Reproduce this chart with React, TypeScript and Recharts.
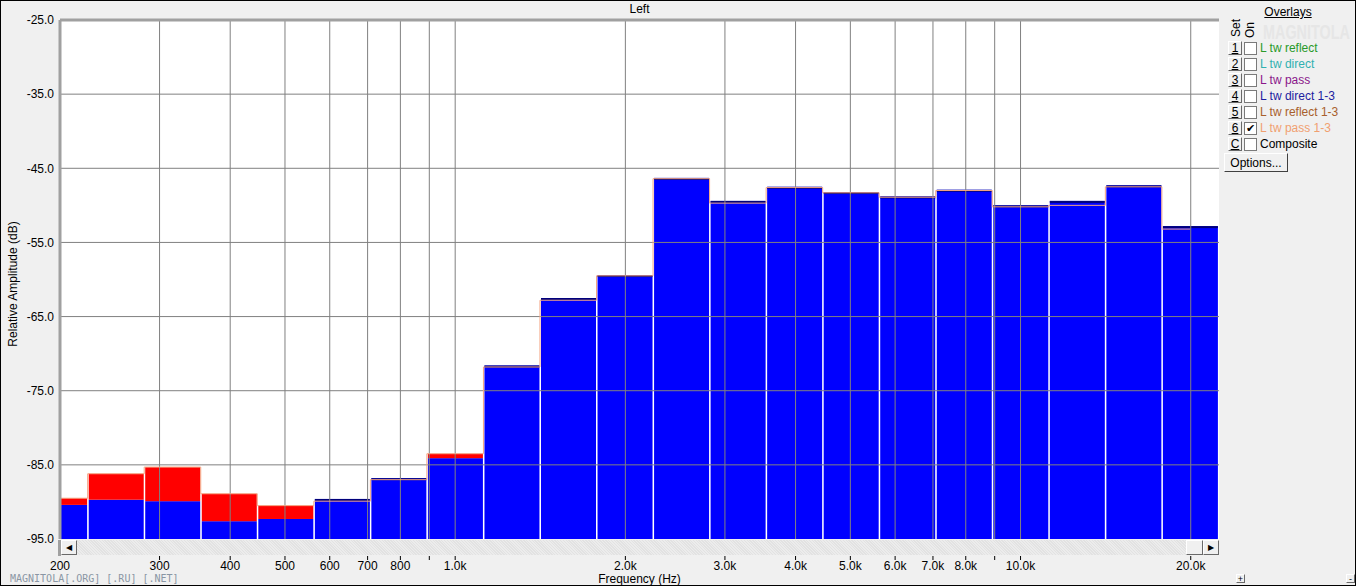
import { ComposedChart, Bar, Line, XAxis, YAxis, CartesianGrid, ReferenceLine } from 'recharts'

// third-octave band centres (Hz), base-10 series
const freqs = [199.5, 251.2, 316.2, 398.1, 501.2, 631.0, 794.3, 1000, 1258.9, 1584.9, 1995.3, 2511.9, 3162.3, 3981.1, 5011.9, 6309.6, 7943.3, 10000, 12589, 15849, 19953]
// blue (front) levels, dB
const blueLevels = [-90.4, -89.7, -89.9, -92.6, -92.3, -89.6, -86.8, -84.1, -71.6, -62.5, -59.4, -46.3, -49.4, -47.5, -48.2, -48.8, -47.9, -50.0, -49.4, -47.3, -52.8]
// red overlay "L tw pass 1-3" levels, dB
const redLevels = [-89.5, -86.2, -85.3, -88.9, -90.5, -89.9, -87.0, -83.5, -71.8, -62.8, -59.5, -46.4, -49.7, -47.6, -48.3, -48.9, -48.0, -50.2, -50.0, -47.5, -53.2]

const xTicks = [200, 300, 400, 500, 600, 700, 800, 900, 1000, 2000, 3000, 4000, 5000, 6000, 7000, 8000, 9000, 10000, 20000]
const unlabelled = [900, 9000]
const yTicks = [-95, -85, -75, -65, -55, -45, -35, -25]

const overlays = [
  { set: '1', name: 'L tw reflect', color: '#2a9a2a', on: false },
  { set: '2', name: 'L tw direct', color: '#30b0b0', on: false },
  { set: '3', name: 'L tw pass', color: '#8a168a', on: false },
  { set: '4', name: 'L tw direct 1-3', color: '#1c1ca0', on: false },
  { set: '5', name: 'L tw reflect 1-3', color: '#a8602c', on: false },
  { set: '6', name: 'L tw pass 1-3', color: '#f0a070', on: true },
  { set: 'C', name: 'Composite', color: '#000000', on: false },
]

const FONT = '"Liberation Sans", Arial, sans-serif'
const BAR_W = 55

const data = freqs.map((f, i) => ({
  freq: f,
  blue: blueLevels[i],
  red: redLevels[i],
  blueRange: [-95, blueLevels[i]],
  redRange: [blueLevels[i], Math.max(blueLevels[i], redLevels[i])],
}))

const fmtFreq = (v: number) => {
  if (unlabelled.includes(v)) return ''
  return v >= 1000 ? (v / 1000).toFixed(1) + 'k' : String(v)
}

const FreqTick = (props: any) => {
  const { x, payload } = props
  const label = fmtFreq(payload.value)
  return (
    <g>
      {payload.value > 200 && <line x1={x} x2={x} y1={556} y2={560} stroke="#000" />}
      <text x={x} y={570} textAnchor="middle" fontSize={12} fontFamily={FONT} fill="#000">{label}</text>
    </g>
  )
}

// bars are centred on the band centre with a fixed width
const BlueBar = (props: any) => {
  const { x, y, width, height, payload } = props
  const cx = x + width / 2
  return (
    <g>
      <rect x={cx - BAR_W / 2} y={y} width={BAR_W} height={height} fill="#0000ff" />
      {payload.blue >= payload.red && <rect x={cx - BAR_W / 2} y={y} width={BAR_W} height={2} fill="#00007a" />}
    </g>
  )
}

const RedBar = (props: any) => {
  const { x, y, width, height } = props
  if (!height) return <g />
  const cx = x + width / 2
  return <rect x={cx - BAR_W / 2} y={y} width={BAR_W} height={height} fill="#ff0000" />
}

const raised: React.CSSProperties = {
  position: 'absolute',
  background: '#f0f0f0',
  borderTop: '1px solid #fff',
  borderLeft: '1px solid #fff',
  borderRight: '1px solid #696969',
  borderBottom: '1px solid #696969',
  boxSizing: 'border-box',
  display: 'flex',
  alignItems: 'center',
  justifyContent: 'center',
  fontSize: 12,
  lineHeight: '12px',
}

export default function App() {
  return (
    <div style={{ position: 'absolute', left: 0, top: 0, width: 1356, height: 586, background: '#f0f0f0', fontFamily: FONT, overflow: 'hidden' }}>
      <ComposedChart width={1356} height={586} data={data} barCategoryGap={0} margin={{ top: 20, right: 137, bottom: 0, left: 0 }}>
        <CartesianGrid fill="#fff" horizontal={false} vertical={false} />
        <XAxis
          dataKey="freq"
          type="number"
          scale="log"
          domain={[200, 22440]}
          allowDataOverflow
          ticks={xTicks}
          interval={0}
          height={47}
          axisLine={false}
          tickLine={false}
          tick={<FreqTick />}
          label={{ value: 'Frequency (Hz)', position: 'insideBottom', offset: 3, fontSize: 12, fontFamily: FONT, fill: '#000' }}
        />
        <XAxis xAxisId="r" dataKey="freq" type="number" scale="log" domain={[200, 22440]} allowDataOverflow hide />
        <YAxis
          type="number"
          domain={[-95, -25]}
          ticks={yTicks}
          interval={0}
          width={60}
          tickSize={4}
          tickMargin={2}
          tickLine={false}
          axisLine={{ stroke: '#a0a0a0', strokeWidth: 3 }}
          tickFormatter={(v: number) => v.toFixed(1)}
          tick={{ fontSize: 12, fontFamily: FONT, fill: '#000' }}
        />
        <Bar dataKey="blueRange" shape={<BlueBar />} isAnimationActive={false} />
        <Bar dataKey="redRange" xAxisId="r" shape={<RedBar />} isAnimationActive={false} />
        {yTicks.filter(v => v > -95 && v < -25).map(v => (
          <ReferenceLine key={'h' + v} y={v} stroke="#808080" />
        ))}
        {xTicks.filter(v => v > 200).map(v => (
          <ReferenceLine key={'v' + v} x={v} stroke="#808080" />
        ))}
        <Line dataKey="red" type="step" stroke="#f4a482" strokeWidth={1} dot={false} activeDot={false} isAnimationActive={false} />
        <ReferenceLine y={-25} stroke="#a0a0a0" strokeWidth={3} />
      </ComposedChart>

      {/* title */}
      <div style={{ position: 'absolute', left: 60, width: 1159, top: 2, textAlign: 'center', fontSize: 12 }}>Left</div>

      {/* y axis label */}
      <div style={{ position: 'absolute', left: 13, top: 284, transform: 'translate(-50%, -50%) rotate(-90deg)', whiteSpace: 'nowrap', fontSize: 12 }}>
        Relative Amplitude (dB)
      </div>

      {/* scrollbar strip */}
      <div style={{ position: 'absolute', left: 58, top: 540, width: 3, height: 16, background: '#a0a0a0' }} />
      <div style={{ position: 'absolute', left: 61, top: 540, width: 1158, height: 15, background: 'repeating-linear-gradient(45deg, #ececec 0 1px, #e2e2e2 1px 2px)' }} />
      <div style={{ ...raised, left: 61, top: 540, width: 16, height: 15, fontSize: 8 }}>◀</div>
      <div style={{ ...raised, left: 1186, top: 540, width: 17, height: 15 }} />
      <div style={{ ...raised, left: 1203, top: 540, width: 16, height: 15, fontSize: 8 }}>▶</div>

      {/* watermark */}
      <div style={{ position: 'absolute', left: 10, top: 574, fontSize: 10, lineHeight: '9px', fontFamily: '"DejaVu Sans Mono", monospace', color: '#8a96a4' }}>
        MAGNITOLA[.ORG] [.RU] [.NET]
      </div>
      <div style={{ ...raised, left: 1236, top: 574, width: 9, height: 9, fontSize: 9 }}>+</div>
      <div style={{ ...raised, left: 1346, top: 574, width: 9, height: 9, fontSize: 9 }}>-</div>

      {/* overlays panel */}
      <div style={{ position: 'absolute', left: 1263, top: 22, fontSize: 20, lineHeight: '20px', fontWeight: 'bold', color: '#e6e6e6', transform: 'scaleX(0.72)', transformOrigin: 'left top' }}>MAGNITOLA</div>
      <div style={{ position: 'absolute', left: 1260, width: 56, top: 5, textAlign: 'center', fontSize: 12, textDecoration: 'underline' }}>Overlays</div>
      <div style={{ position: 'absolute', left: 1236, top: 28, transform: 'translate(-50%, -50%) rotate(-90deg)', fontSize: 12 }}>Set</div>
      <div style={{ position: 'absolute', left: 1250, top: 30, transform: 'translate(-50%, -50%) rotate(-90deg)', fontSize: 12 }}>On</div>
      {overlays.map((o, i) => (
        <div key={o.set}>
          <div style={{ ...raised, left: 1228, top: 41 + i * 16, width: 14, height: 14, textDecoration: 'underline' }}>{o.set}</div>
          <div style={{ position: 'absolute', left: 1244, top: 42 + i * 16, width: 13, height: 13, boxSizing: 'border-box', background: '#fff', border: '1px solid #7a7a7a', fontSize: 11, lineHeight: '11px', textAlign: 'center' }}>
            {o.on ? '✔' : ''}
          </div>
          <div style={{ position: 'absolute', left: 1260, top: 41 + i * 16, fontSize: 12, color: o.color, whiteSpace: 'nowrap' }}>{o.name}</div>
        </div>
      ))}
      <div style={{ ...raised, left: 1224, top: 153, width: 64, height: 19, borderRight: '1px solid #404040', borderBottom: '1px solid #404040' }}>Options...</div>

      {/* frame */}
      <div style={{ position: 'absolute', left: 0, top: 0, width: 1356, height: 586, boxSizing: 'border-box', border: '1px solid #000', pointerEvents: 'none' }} />
    </div>
  )
}
